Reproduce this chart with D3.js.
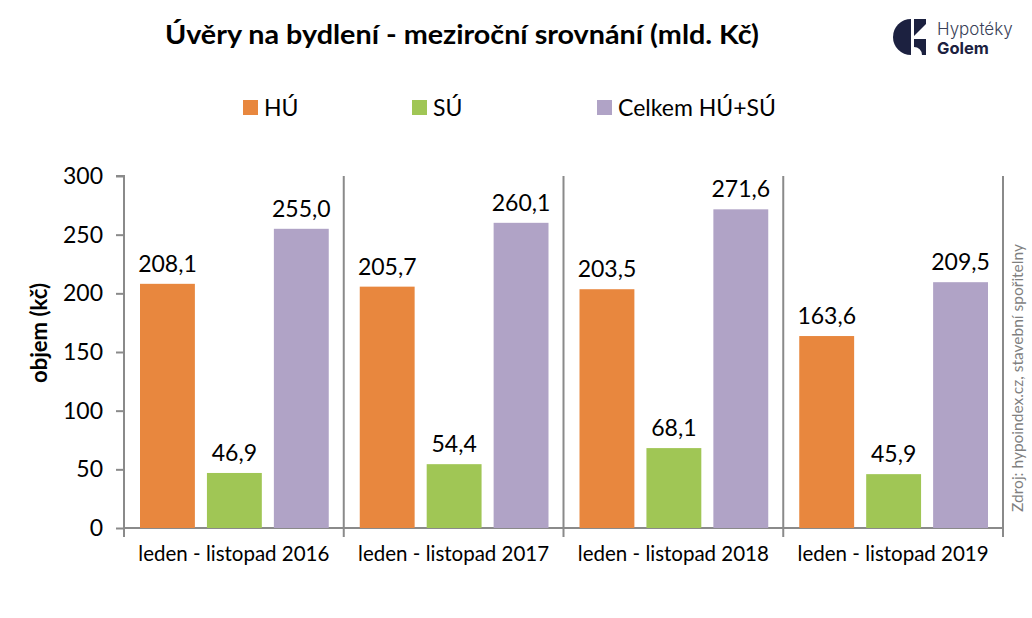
<!DOCTYPE html>
<html><head><meta charset="utf-8">
<script src="https://cdn.jsdelivr.net/npm/d3@7"></script>
<style>body{margin:0;background:#fff}svg{display:block}</style>
</head><body>
<svg id="c" width="1032" height="618"></svg>
<script>
const categories = ["leden - listopad 2016","leden - listopad 2017","leden - listopad 2018","leden - listopad 2019"];
const seriesNames = ["HÚ","SÚ","Celkem HÚ+SÚ"];
const valuesHU = [208.1, 205.7, 203.5, 163.6];
const valuesSU = [46.9, 54.4, 68.1, 45.9];
const valuesTotal = [255.0, 260.1, 271.6, 209.5];
const yTicks = [0, 50, 100, 150, 200, 250, 300];
const colors = ["#E8873E", "#A0C655", "#B0A3C6"];

(function () {
const series = [valuesHU, valuesSU, valuesTotal];
const svg = d3.select("#c");
const font = "Lato, 'Open Sans', sans-serif";
const pL = 124, pR = 1003, pT = 176, pB = 528;

const x0 = d3.scaleBand().domain(categories).range([pL, pR]).padding(0);
const x1 = d3.scaleBand().domain(seriesNames).range([16, x0.bandwidth() - 15]).paddingInner(0.18);
const y = d3.scaleLinear().domain([0, 300]).range([pB, pT]);

// Title
svg.append("text").attr("x", 462).attr("y", 44).attr("text-anchor", "middle")
  .attr("font-family", font).attr("font-weight", "bold").attr("font-size", 27.5).attr("fill", "#000")
  .attr("textLength", 594).attr("lengthAdjust", "spacingAndGlyphs")
  .text("Úvěry na bydlení - meziroční srovnání (mld. Kč)");

// Logo
const lg = svg.append("g").attr("fill", "#1c2140");
lg.append("path").attr("d", "M911,19 V55 A18,18 0 0 1 911,19 Z");
lg.append("path").attr("d", "M914,19 H926 V24 L914,36 Z");
lg.append("path").attr("d", "M914,39 H926 V55 H922 A8,8 0 0 0 914,47 Z");
svg.append("text").attr("x", 937).attr("y", 35).attr("font-family", "Inter, sans-serif").attr("font-weight", 300)
  .attr("font-size", 17).attr("fill", "#3a3f58").text("Hypotéky");
svg.append("text").attr("x", 937).attr("y", 54).attr("font-family", "Inter, sans-serif").attr("font-weight", 700)
  .attr("font-size", 16.5).attr("fill", "#1c2140").text("Golem");

// Legend
const legendX = [243, 412, 597];
seriesNames.forEach((s, i) => {
  svg.append("rect").attr("x", legendX[i]).attr("y", 100).attr("width", 15).attr("height", 15).attr("fill", colors[i]);
  svg.append("text").attr("x", legendX[i] + 21).attr("y", 116).attr("font-family", font).attr("font-size", 23)
    .attr("fill", "#000").text(s);
});

// Separators
const sepX = categories.slice(1).map(c => x0(c)).concat([pR]);
sepX.forEach(sx => {
  svg.append("line").attr("x1", sx).attr("x2", sx).attr("y1", pT).attr("y2", pB + 9)
    .attr("stroke", "#8a8a8a").attr("stroke-width", 2);
});

// Y axis
const yAxis = d3.axisLeft(y).tickValues(yTicks).tickSize(8).tickPadding(13).tickFormat(d3.format("d"));
const ya = svg.append("g").attr("transform", `translate(${pL},0)`).call(yAxis);
ya.select(".domain").attr("stroke", "#8a8a8a").attr("stroke-width", 2).attr("d", `M-8,${pT}H0V${pB}`);
ya.selectAll(".tick line").attr("stroke", "#8a8a8a").attr("stroke-width", 2);
ya.selectAll(".tick text").attr("font-family", font).attr("font-size", 23).attr("fill", "#000");

// X axis
const xAxis = d3.axisBottom(x0).tickSize(0).tickPadding(18);
const xa = svg.append("g").attr("transform", `translate(0,${pB})`).call(xAxis);
xa.select(".domain").attr("stroke", "#8a8a8a").attr("stroke-width", 2).attr("d", `M${pL},0H${pR}`);
xa.selectAll(".tick text").attr("font-family", font).attr("font-size", 20.5).attr("fill", "#000");
svg.append("line").attr("x1", pL).attr("x2", pL).attr("y1", pB).attr("y2", pB + 9)
  .attr("stroke", "#8a8a8a").attr("stroke-width", 2);

// Bars
const fmt = v => v.toFixed(1).replace(".", ",");
categories.forEach((c, ci) => {
  seriesNames.forEach((s, si) => {
    const v = series[si][ci];
    const bx = x0(c) + x1(s);
    svg.append("rect").attr("x", bx).attr("y", y(v)).attr("width", x1.bandwidth())
      .attr("height", y(0) - y(v)).attr("fill", colors[si]);
    svg.append("text").attr("x", bx + x1.bandwidth() / 2).attr("y", y(v) - 12).attr("text-anchor", "middle")
      .attr("font-family", font).attr("font-size", 23).attr("fill", "#000").text(fmt(v));
  });
});

// Y title
svg.append("text").attr("transform", "translate(47,333) rotate(-90)").attr("text-anchor", "middle")
  .attr("font-family", font).attr("font-weight", "bold").attr("font-size", 22).attr("fill", "#000")
  .attr("textLength", 100).attr("lengthAdjust", "spacingAndGlyphs").text("objem (kč)");

// Source
svg.append("text").attr("transform", "translate(1023,378) rotate(-90)").attr("text-anchor", "middle")
  .attr("font-family", font).attr("font-size", 15.5).attr("fill", "#7f7f7f").text("Zdroj: hypoindex.cz, stavební spořitelny");
})();
</script>
</body></html>
